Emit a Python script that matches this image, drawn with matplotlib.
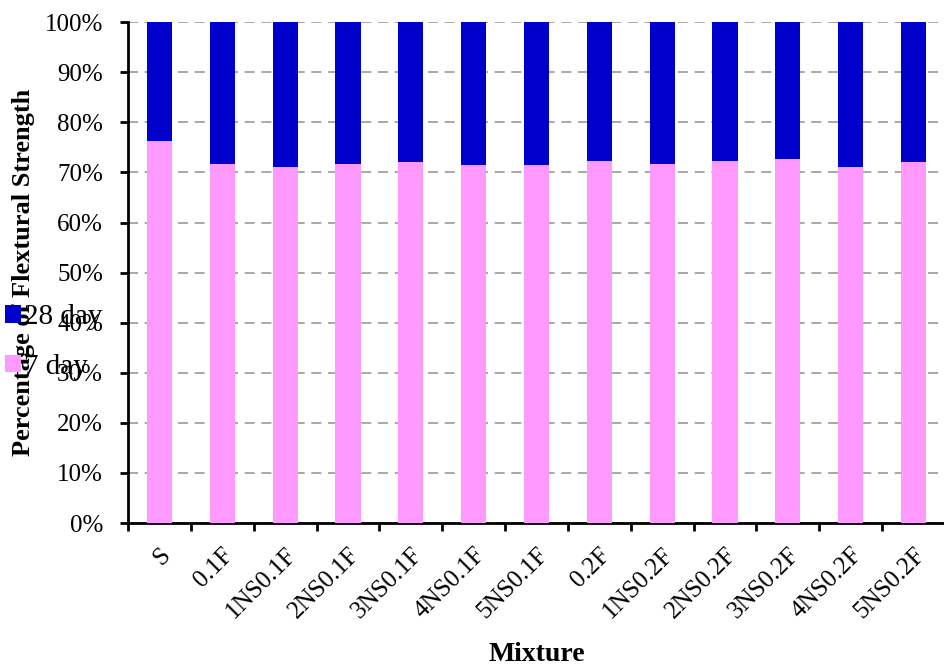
import matplotlib.pyplot as plt
import matplotlib.transforms as mtransforms
import numpy as np

mixtures = ["S", "0.1F", "1NS0.1F", "2NS0.1F", "3NS0.1F", "4NS0.1F", "5NS0.1F",
            "0.2F", "1NS0.2F", "2NS0.2F", "3NS0.2F", "4NS0.2F", "5NS0.2F"]
day7 = [76.2, 71.7, 71.1, 71.7, 72.0, 71.4, 71.4, 72.3, 71.7, 72.3, 72.6, 71.1, 72.0]
day28 = [100 - v for v in day7]

plt.rcParams["font.family"] = ["Liberation Serif", "DejaVu Serif"]

fig = plt.figure(figsize=(9.45, 6.66), dpi=100)
ax = fig.add_axes([0.1355, 0.2147, 0.8645, 0.752])

x = np.arange(len(mixtures))
b7 = ax.bar(x, day7, width=0.4, color="#ff99ff", label="7 day", zorder=3)
b28 = ax.bar(x, day28, bottom=day7, width=0.4, color="#0000cc", label="28 day", zorder=3)

ax.set_xlim(-0.5, len(mixtures) - 0.5)
ax.set_ylim(0, 100)
ax.set_yticks(np.arange(0, 101, 10))
ax.set_yticklabels([f"{v}%" for v in range(0, 101, 10)], fontsize=18)
ax.yaxis.grid(True, linestyle=(0, (6, 4)), color="#999999", linewidth=1.2, zorder=0)

ax.set_xticks(x)
ax.set_xticklabels(mixtures, rotation=45, ha="right", va="top",
                   rotation_mode="anchor", fontsize=18)
shift = mtransforms.ScaledTranslation(-5 / 100, 0, fig.dpi_scale_trans)
for lbl in ax.get_xticklabels():
    lbl.set_transform(lbl.get_transform() + shift)
ax.set_xticks(np.arange(-0.5, len(mixtures), 1), minor=True)
ax.tick_params(axis="x", which="major", length=0, pad=15)
ax.tick_params(axis="x", which="minor", length=6, width=2, direction="out")
ax.tick_params(axis="y", length=6, width=2, direction="out", pad=12)

for s in ["top", "right"]:
    ax.spines[s].set_visible(False)
ax.spines["left"].set_linewidth(2)
ax.spines["bottom"].set_linewidth(2)

ax.set_xlabel("Mixture", fontsize=20, fontweight="bold", labelpad=14)
ax.set_ylabel("Percentage of Flextural Strength", fontsize=19, fontweight="bold", labelpad=7)

fig.legend(handles=[b28, b7], labels=["28 day", "7 day"], loc="upper left",
           bbox_to_anchor=(-0.004, 0.556), frameon=False, fontsize=21,
           handlelength=0.55, handleheight=0.55, handletextpad=0.1,
           labelspacing=0.8, borderpad=0.0, borderaxespad=0.3)

fig.savefig("out.png", dpi=100)
